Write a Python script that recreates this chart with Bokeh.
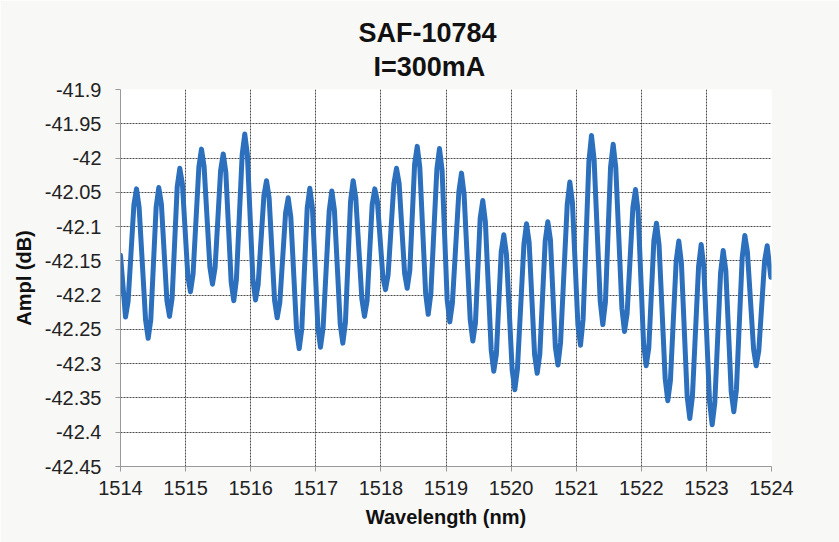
from bokeh.plotting import figure
from bokeh.models import Title, Range1d, FixedTicker
from bokeh.embed import file_html
from bokeh.resources import INLINE

extrema_nm = [
    1514.00, 1514.077, 1514.246, 1514.425, 1514.588, 1514.753, 1514.911, 1515.075,
    1515.244, 1515.413, 1515.578, 1515.740, 1515.909, 1516.074, 1516.243, 1516.407,
    1516.576, 1516.745, 1516.908, 1517.072, 1517.246, 1517.415, 1517.574, 1517.748,
    1517.906, 1518.071, 1518.240, 1518.404, 1518.558, 1518.727, 1518.900, 1519.058,
    1519.238, 1519.412, 1519.565, 1519.734, 1519.888, 1520.057, 1520.237, 1520.401,
    1520.564, 1520.720, 1520.902, 1521.066, 1521.235, 1521.409, 1521.568, 1521.742,
    1521.911, 1522.075, 1522.233, 1522.407, 1522.576, 1522.745, 1522.920, 1523.089,
    1523.258, 1523.421, 1523.590, 1523.765, 1523.934, 1523.99,
]
extrema_db = [
    -42.142, -42.232, -42.045, -42.263, -42.043, -42.231, -42.015, -42.195,
    -41.987, -42.184, -41.994, -42.208, -41.965, -42.207, -42.033, -42.233,
    -42.058, -42.278, -42.044, -42.276, -42.048, -42.270, -42.033, -42.231,
    -42.045, -42.192, -42.015, -42.190, -41.983, -42.228, -41.986, -42.239,
    -42.022, -42.267, -42.062, -42.311, -42.112, -42.338, -42.096, -42.314,
    -42.093, -42.302, -42.035, -42.273, -41.967, -42.243, -41.980, -42.253,
    -42.046, -42.303, -42.095, -42.354, -42.121, -42.380, -42.126, -42.389,
    -42.135, -42.370, -42.113, -42.303, -42.128, -42.174,
]
# Points on the rounded shoulders either side of each peak / trough
shoulder_nm = [
    1514.117, 1514.206, 1514.286, 1514.385, 1514.465, 1514.548, 1514.628, 1514.713,
    1514.793, 1514.871, 1514.951, 1515.035, 1515.115, 1515.204, 1515.284, 1515.373,
    1515.453, 1515.538, 1515.618, 1515.700, 1515.780, 1515.869, 1515.949, 1516.034,
    1516.114, 1516.203, 1516.283, 1516.367, 1516.447, 1516.536, 1516.616, 1516.705,
    1516.785, 1516.868, 1516.948, 1517.032, 1517.112, 1517.206, 1517.286, 1517.375,
    1517.455, 1517.534, 1517.614, 1517.708, 1517.788, 1517.866, 1517.946, 1518.031,
    1518.111, 1518.200, 1518.280, 1518.364, 1518.444, 1518.518, 1518.598, 1518.687,
    1518.767, 1518.860, 1518.940, 1519.018, 1519.098, 1519.198, 1519.278, 1519.372,
    1519.452, 1519.525, 1519.605, 1519.694, 1519.774, 1519.848, 1519.928, 1520.017,
    1520.097, 1520.197, 1520.277, 1520.361, 1520.441, 1520.524, 1520.604, 1520.680,
    1520.760, 1520.862, 1520.942, 1521.026, 1521.106, 1521.195, 1521.275, 1521.369,
    1521.449, 1521.528, 1521.608, 1521.702, 1521.782, 1521.871, 1521.951, 1522.035,
    1522.115, 1522.193, 1522.273, 1522.367, 1522.447, 1522.536, 1522.616, 1522.705,
    1522.785, 1522.880, 1522.960, 1523.049, 1523.129, 1523.218, 1523.298, 1523.381,
    1523.461, 1523.550, 1523.630, 1523.725, 1523.805, 1523.894,
]
shoulder_db = [
    -42.209, -42.068, -42.072, -42.236, -42.236, -42.071, -42.067, -42.208,
    -42.204, -42.042, -42.038, -42.173, -42.169, -42.013, -42.012, -42.159,
    -42.160, -42.018, -42.021, -42.181, -42.178, -41.995, -41.995, -42.177,
    -42.185, -42.055, -42.058, -42.208, -42.211, -42.080, -42.086, -42.251,
    -42.249, -42.073, -42.073, -42.247, -42.248, -42.077, -42.076, -42.242,
    -42.240, -42.063, -42.058, -42.206, -42.208, -42.068, -42.063, -42.174,
    -42.170, -42.037, -42.037, -42.168, -42.164, -42.009, -42.014, -42.197,
    -42.198, -42.016, -42.018, -42.207, -42.212, -42.049, -42.053, -42.236,
    -42.241, -42.088, -42.093, -42.280, -42.286, -42.137, -42.140, -42.310,
    -42.308, -42.126, -42.123, -42.287, -42.286, -42.121, -42.119, -42.276,
    -42.269, -42.068, -42.065, -42.243, -42.235, -42.005, -42.002, -42.209,
    -42.210, -42.013, -42.014, -42.219, -42.227, -42.072, -42.078, -42.271,
    -42.277, -42.121, -42.127, -42.322, -42.325, -42.150, -42.153, -42.348,
    -42.348, -42.158, -42.159, -42.356, -42.357, -42.167, -42.164, -42.341,
    -42.338, -42.145, -42.137, -42.279, -42.281, -42.150,
]
x_ticks = [1514, 1515, 1516, 1517, 1518, 1519, 1520, 1521, 1522, 1523, 1524]
y_ticks = [-42.45, -42.4, -42.35, -42.3, -42.25, -42.2, -42.15, -42.1,
           -42.05, -42.0, -41.95, -41.9]

# merge the read points in wavelength order
pts = sorted(zip(extrema_nm + shoulder_nm, extrema_db + shoulder_db))
wavelength_nm = [a for a, b in pts]
ampl_db = [b for a, b in pts]

FONT = "Liberation Sans"

p = figure(width=839, height=542, output_backend="svg", toolbar_location=None,
           x_range=Range1d(1514, 1524), y_range=Range1d(-42.45, -41.9),
           min_border_left=120, min_border_right=68, min_border_bottom=76,
           min_border_top=89)
p.title = None
p.background_fill_color = "white"
p.border_fill_color = "#f8f8f7"
p.outline_line_color = None

t2 = Title(text="I=300mA", align="left", offset=253, text_font=FONT,
           text_font_size="27px", text_font_style="bold", text_color="#111111",
           standoff=16)
t1 = Title(text="SAF-10784", align="left", offset=238, text_font=FONT,
           text_font_size="27px", text_font_style="bold", text_color="#111111",
           standoff=-12)
p.add_layout(t2, "above")
p.add_layout(t1, "above")

p.line(wavelength_nm, ampl_db, line_color="#2c6fbd", line_width=5,
       line_join="round", line_cap="round")

p.xaxis.ticker = FixedTicker(ticks=x_ticks)
p.yaxis.ticker = FixedTicker(ticks=y_ticks)
p.yaxis.major_label_overrides = {v: ("%g" % v) for v in y_ticks}

for ax in (p.xaxis[0], p.yaxis[0]):
    ax.axis_line_color = "#999999"
    ax.major_tick_line_color = "#999999"
    ax.major_tick_in = 0
    ax.major_tick_out = 5
    ax.minor_tick_line_color = None
    ax.major_label_text_font = FONT
    ax.major_label_text_font_size = "20px"
    ax.major_label_text_color = "#222222"
    ax.axis_label_text_font = FONT
    ax.axis_label_text_font_size = "20px"
    ax.axis_label_text_font_style = "bold"
    ax.axis_label_text_color = "#111111"

p.xaxis.axis_label = "Wavelength (nm)"
p.yaxis.axis_label = "Ampl (dB)"
p.xaxis.major_label_standoff = 9
p.yaxis.major_label_standoff = 14
p.xaxis.axis_label_standoff = 8
p.yaxis.axis_label_standoff = 7

for g in (p.xgrid[0], p.ygrid[0]):
    g.grid_line_color = "#4a4a4a"
    g.grid_line_dash = "2 1"
    g.grid_line_width = 1

open("out.html", "w").write(file_html(p, INLINE))
